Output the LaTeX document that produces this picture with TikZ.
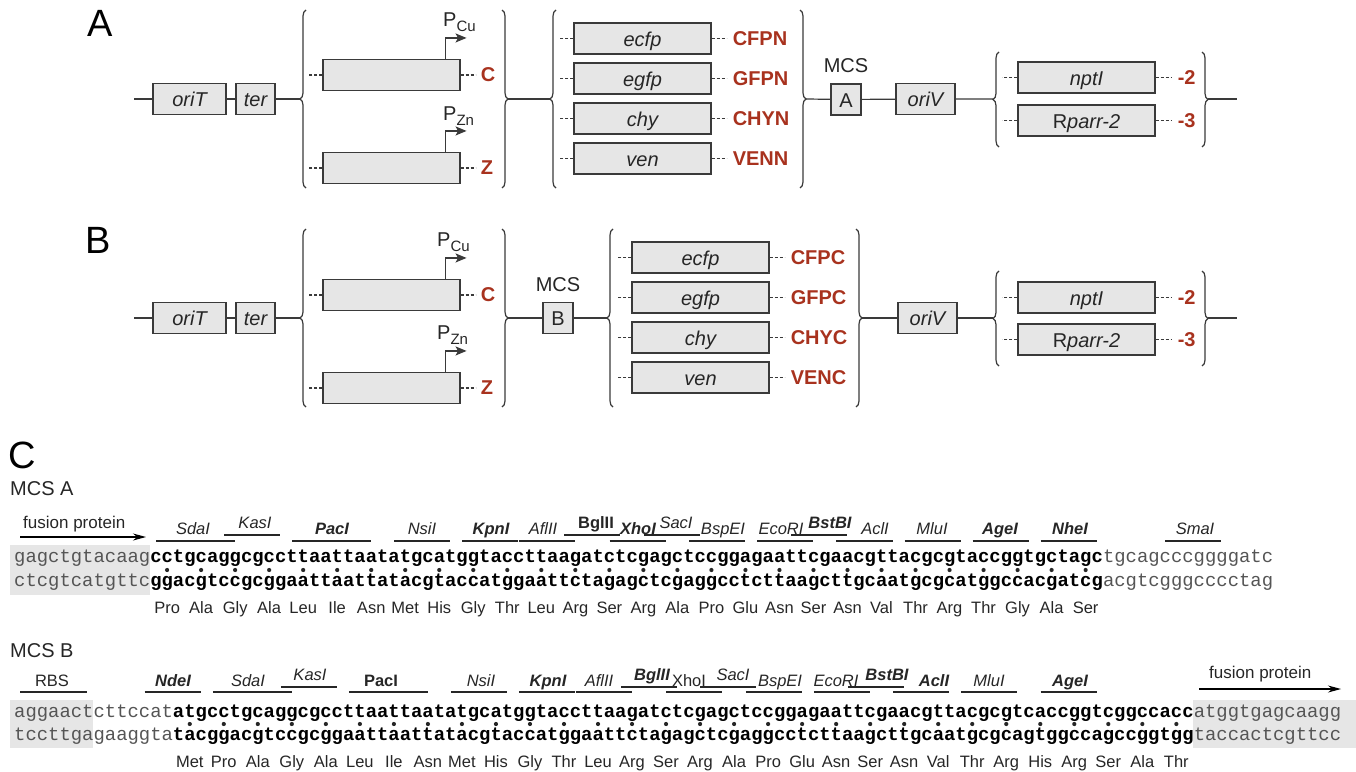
\documentclass[tikz,border=0pt]{standalone}
\usepackage{fontspec}
\setmainfont{Liberation Sans}
\setmonofont{Liberation Mono}
\usetikzlibrary{arrows.meta, decorations.pathreplacing, calc}
\definecolor{boxgray}{HTML}{E6E6E6}
\definecolor{edgegray}{HTML}{3A3A3A}
\definecolor{inkgray}{HTML}{262626}
\definecolor{seqgray}{HTML}{555555}
\definecolor{tagred}{HTML}{A8321E}
\newcommand{\fsz}[1]{\fontsize{#1pt}{#1pt}\selectfont}

\begin{document}
\begin{tikzpicture}[x=1pt, y=-1pt,
  gbox/.style={rectangle, draw=edgegray, fill=boxgray, line width=1.1pt, minimum height=31pt, minimum width=137pt, inner sep=0pt, text height=15pt, text depth=0pt, font=\fsz{20}\itshape, text=inkgray},
  tag/.style={anchor=west, inner sep=0pt, font=\fsz{20}\bfseries, text=tagred},
  ln/.style={draw=edgegray, line width=1.2pt},
  dsh/.style={draw=edgegray, line width=1.2pt, dash pattern=on 3pt off 2pt},
  brc/.style={draw=edgegray, line width=1.2pt, decorate, decoration={brace, amplitude=6pt}},
  prom/.style={draw=edgegray, line width=1.2pt, -{Stealth[length=11pt, width=9pt, inset=2.5pt]}},
  part/.style={inner sep=0pt, font=\fsz{38}},
  lbl/.style={inner sep=0pt, font=\fsz{20}, text=inkgray},
  seq/.style={inner sep=0pt, anchor=base west, font=\fsz{18.9}\ttfamily},
  aa/.style={inner sep=0pt, anchor=base, font=\fsz{16.5}, text=inkgray},
  enzit/.style={inner sep=0pt, anchor=base, font=\fsz{16.5}\itshape, text=inkgray},
  enzbi/.style={inner sep=0pt, anchor=base, font=\fsz{16.5}\bfseries\itshape, text=inkgray},
  enzbf/.style={inner sep=0pt, anchor=base, font=\fsz{16.5}\bfseries, text=inkgray},
  enzrm/.style={inner sep=0pt, anchor=base, font=\fsz{16.5}, text=inkgray},
  site/.style={draw=inkgray, line width=1.3pt},
  fus/.style={draw=black, line width=1.3pt, -{Stealth[length=13pt, width=7pt]}}
]
\useasboundingbox (0,0) rectangle (1356,771);

% A
\node[part] (labA) at (100,23) {A};
\coordinate (inA) at (134,99);
\node[gbox, minimum width=73pt] (oriTA) at (189.5,99) {oriT};
\node[gbox, minimum width=39pt] (terA) at (255.5,99) {ter};
\coordinate (lA1) at (300,99);
\draw[ln] (inA) -- (oriTA) -- (terA) -- (lA1);
\draw[brc] (306,188) -- (306,10);
\node[gbox] (CA) at (391.5,75) {};
\node[gbox] (ZA) at (391.5,168) {};
\foreach \n/\t in {CA/C, ZA/Z}{
  \draw[dsh] (\n.west) -- ++(-13,0);
  \draw[dsh] (\n.east) -- ++(15,0);
  \node[tag] (t-\n) at ($(\n.east)+(20,0)$) {\t};
  \draw[prom] ($(\n.north east)+(-15,0)$) -- ++(0,-21) -- ++(21,0);
}
\node[lbl, anchor=base west] (pCuA) at (443,27) {P\raisebox{-5pt}{\fsz{15}Cu}};
\node[lbl, anchor=base west] (pZnA) at (443,120) {P\raisebox{-5pt}{\fsz{15}Zn}};
\draw[brc] (502,10) -- (502,188);
\coordinate (rA1) at (508,99);
\coordinate (lA2) at (550,99);
\draw[ln] (rA1) -- (lA2);
\draw[brc] (556,188) -- (556,10);
\foreach \g/\t [count=\i from 0] in {ecfp/CFPN, egfp/GFPN, chy/CHYN, ven/VENN}{
  \node[gbox] (A-\g) at (642.5,38.5+40*\i) {\g};
  \draw[dsh] (A-\g.west) -- ++(-14,0);
  \draw[dsh] (A-\g.east) -- ++(15,0);
  \node[tag] (t-\t) at ($(A-\g.east)+(21,0)$) {\t};
}
\draw[brc] (800,10) -- (800,188);
\coordinate (rA2) at (806,99);
\node[gbox, minimum width=30pt, font=\fsz{20}] (mcsA) at (846,99.5) {A};
\node[lbl] (mcsAt) at (846,66) {MCS};
\node[gbox, minimum width=59pt] (oriVA) at (925.5,99) {oriV};
\coordinate (lA3) at (993,99);
\draw[ln] (rA2) -- (mcsA) -- (oriVA) -- (lA3);
\draw[brc] (999,147) -- (999,52);
\node[gbox] (nptA) at (1086.5,77.5) {nptI};
\node[gbox] (rparA) at (1086.5,120.5) {\upshape R\itshape parr-2};
\foreach \n/\t in {nptA/-2, rparA/-3}{
  \draw[dsh] (\n.west) -- ++(-15,0);
  \draw[dsh] (\n.east) -- ++(16,0);
  \node[tag] (t-\n) at ($(\n.east)+(22,0)$) {\t};
}
\draw[brc] (1202,52) -- (1202,147);
\coordinate (rA3) at (1208,99);
\coordinate (outA) at (1237,99);
\draw[ln] (rA3) -- (outA);

% B
\node[part] (labB) at (98,240) {B};
\coordinate (inB) at (134,318);
\node[gbox, minimum width=73pt] (oriTB) at (189.5,318) {oriT};
\node[gbox, minimum width=39pt] (terB) at (255.5,318) {ter};
\coordinate (lB1) at (300,318);
\draw[ln] (inB) -- (oriTB) -- (terB) -- (lB1);
\draw[brc] (306,407) -- (306,229);
\node[gbox] (CB) at (391.5,295) {};
\node[gbox] (ZB) at (391.5,388) {};
\foreach \n/\t in {CB/C, ZB/Z}{
  \draw[dsh] (\n.west) -- ++(-13,0);
  \draw[dsh] (\n.east) -- ++(15,0);
  \node[tag] (t-\n) at ($(\n.east)+(20,0)$) {\t};
  \draw[prom] ($(\n.north east)+(-15,0)$) -- ++(0,-21) -- ++(21,0);
}
\node[lbl, anchor=base west] (pCuB) at (437,246) {P\raisebox{-5pt}{\fsz{15}Cu}};
\node[lbl, anchor=base west] (pZnB) at (437,339) {P\raisebox{-5pt}{\fsz{15}Zn}};
\draw[brc] (502,229) -- (502,407);
\coordinate (rB1) at (508,318);
\node[gbox, minimum width=30pt, font=\fsz{20}] (mcsB) at (558,318) {B};
\node[lbl] (mcsBt) at (558,285) {MCS};
\coordinate (lB2) at (607,318);
\draw[ln] (rB1) -- (mcsB) -- (lB2);
\draw[brc] (613,407) -- (613,229);
\foreach \g/\t [count=\i from 0] in {ecfp/CFPC, egfp/GFPC, chy/CHYC, ven/VENC}{
  \node[gbox] (B-\g) at (700.5,257.5+40*\i) {\g};
  \draw[dsh] (B-\g.west) -- ++(-14,0);
  \draw[dsh] (B-\g.east) -- ++(15,0);
  \node[tag] (t-\t) at ($(B-\g.east)+(21,0)$) {\t};
}
\draw[brc] (856,229) -- (856,407);
\coordinate (rB2) at (862,318);
\node[gbox, minimum width=59pt] (oriVB) at (927.5,318) {oriV};
\coordinate (lB3) at (993,318);
\draw[ln] (rB2) -- (oriVB) -- (lB3);
\draw[brc] (999,366) -- (999,271);
\node[gbox] (nptB) at (1086.5,297.5) {nptI};
\node[gbox] (rparB) at (1086.5,339.5) {\upshape R\itshape parr-2};
\foreach \n/\t in {nptB/-2, rparB/-3}{
  \draw[dsh] (\n.west) -- ++(-15,0);
  \draw[dsh] (\n.east) -- ++(16,0);
  \node[tag] (t-\n) at ($(\n.east)+(22,0)$) {\t};
}
\draw[brc] (1202,271) -- (1202,366);
\coordinate (rB3) at (1208,318);
\coordinate (outB) at (1237,318);
\draw[ln] (rB3) -- (outB);

% C
\node[part] (labC) at (22,455) {C};
\node[lbl, anchor=base west] (mcsAc) at (10,495) {MCS A};
\node[anchor=base west, inner sep=0pt, font=\fsz{17}, text=inkgray] (fusA) at (23,528) {fusion protein};
\coordinate (fusA0) at (20,537);
\coordinate (fusA1) at (146,537);
\draw[fus] (fusA0) -- (fusA1);
\fill[boxgray] (10,545) rectangle (150,595);
\node[seq] (topA) at (14,562) {\textcolor{seqgray}{gagctgtacaag}\textbf{cctgcaggcgccttaattaatatgcatggtaccttaagatctcgagctccggagaattcgaacgttacgcgtaccggtgctagc}\textcolor{seqgray}{tgcagcccggggatc}};
\node[seq] (botA) at (14,586) {\textcolor{seqgray}{ctcgtcatgttc}\textbf{ggacgtccgcggaattaattatacgtaccatggaattctagagctcgaggcctcttaagcttgcaatgcgcatggccacgatcg}\textcolor{seqgray}{acgtcgggcccctag}};
\foreach \a [count=\i from 0] in {Pro,Ala,Gly,Ala,Leu,Ile,Asn,Met,His,Gly,Thr,Leu,Arg,Ser,Arg,Ala,Pro,Glu,Asn,Ser,Asn,Val,Thr,Arg,Thr,Gly,Ala,Ser}{
  \fill[inkgray] ({14+11.34*(13.5+3*\i)},570) circle (2.1pt);
  \node[aa] (aaA\i) at ({14+11.34*(13.5+3*\i)},613) {\a};
}
\foreach \nm/\s/\e/\lx/\lv/\st in {SdaI/12/19/193/0/enzit, KasI/18/23/255/1/enzit, PacI/24/31/332/0/enzbi, NsiI/33/38/422/0/enzit, KpnI/39/44/491/0/enzbi, AflII/44/49/543/0/enzit, BglII/48/53/596/1/enzbf, XhoI/52/57/638/0/enzbi, SacI/55/60/676/1/enzit, BspEI/59/64/723/0/enzit, EcoRI/65/70/781/0/enzit, BstBI/68/73/830/1/enzbi, AclI/72/77/875/0/enzit, MluI/78/83/932/0/enzit, AgeI/84/89/1000/0/enzbi, NheI/90/95/1070/0/enzbi, SmaI/101/106/1195/0/enzit}{
  \draw[site] ({14+11.34*\s+6},{541-6*\lv}) -- ({14+11.34*(\e+1)-6},{541-6*\lv});
  \node[\st] (A-\nm) at (\lx,{534-6*\lv}) {\nm};
}

\node[lbl, anchor=base west] (mcsBc) at (10,657) {MCS B};
\fill[boxgray] (10,700) rectangle (93,748);
\fill[boxgray] (1193,700) rectangle (1356,748);
\node[anchor=base west, inner sep=0pt, font=\fsz{17}, text=inkgray] (fusB) at (1209,678) {fusion protein};
\coordinate (fusB0) at (1199,689);
\coordinate (fusB1) at (1341,689);
\draw[fus] (fusB0) -- (fusB1);
\node[seq] (topB) at (14,717) {\textcolor{seqgray}{aggaactcttccat}\textbf{atgcctgcaggcgccttaattaatatgcatggtaccttaagatctcgagctccggagaattcgaacgttacgcgtcaccggtcggccacc}\textcolor{seqgray}{atggtgagcaagg}};
\node[seq] (botB) at (14,740) {\textcolor{seqgray}{tccttgagaaggta}\textbf{tacggacgtccgcggaattaattatacgtaccatggaattctagagctcgaggcctcttaagcttgcaatgcgcagtggccagccggtgg}\textcolor{seqgray}{taccactcgttcc}};
\foreach \a [count=\i from 0] in {Met,Pro,Ala,Gly,Ala,Leu,Ile,Asn,Met,His,Gly,Thr,Leu,Arg,Ser,Arg,Ala,Pro,Glu,Asn,Ser,Asn,Val,Thr,Arg,His,Arg,Ser,Ala,Thr}{
  \fill[inkgray] ({14+11.34*(15.5+3*\i)},724) circle (2.1pt);
  \node[aa] (aaB\i) at ({14+11.34*(15.5+3*\i)},767) {\a};
}
\foreach \nm/\s/\e/\lx/\lv/\st in {RBS/0/6/52/0/enzrm, NdeI/11/16/173/0/enzbi, SdaI/17/24/248/0/enzit, KasI/23/28/310/1/enzit, PacI/29/36/381/0/enzbf, NsiI/38/43/481/0/enzit, KpnI/44/49/548/0/enzbi, AflII/49/54/599/0/enzit, BglII/53/58/652/1/enzbi, XhoI/57/62/689/0/enzrm, SacI/60/65/733/1/enzit, BspEI/64/69/780/0/enzit, EcoRI/70/75/836/0/enzit, BstBI/73/78/887/1/enzbi, AclI/77/82/934/0/enzbi, MluI/83/88/989/0/enzit, AgeI/90/95/1070/0/enzbi}{
  \draw[site] ({14+11.34*\s+6},{692-5*\lv}) -- ({14+11.34*(\e+1)-6},{692-5*\lv});
  \node[\st] (B-\nm) at (\lx,{686-6*\lv}) {\nm};
}
\end{tikzpicture}
\end{document}
